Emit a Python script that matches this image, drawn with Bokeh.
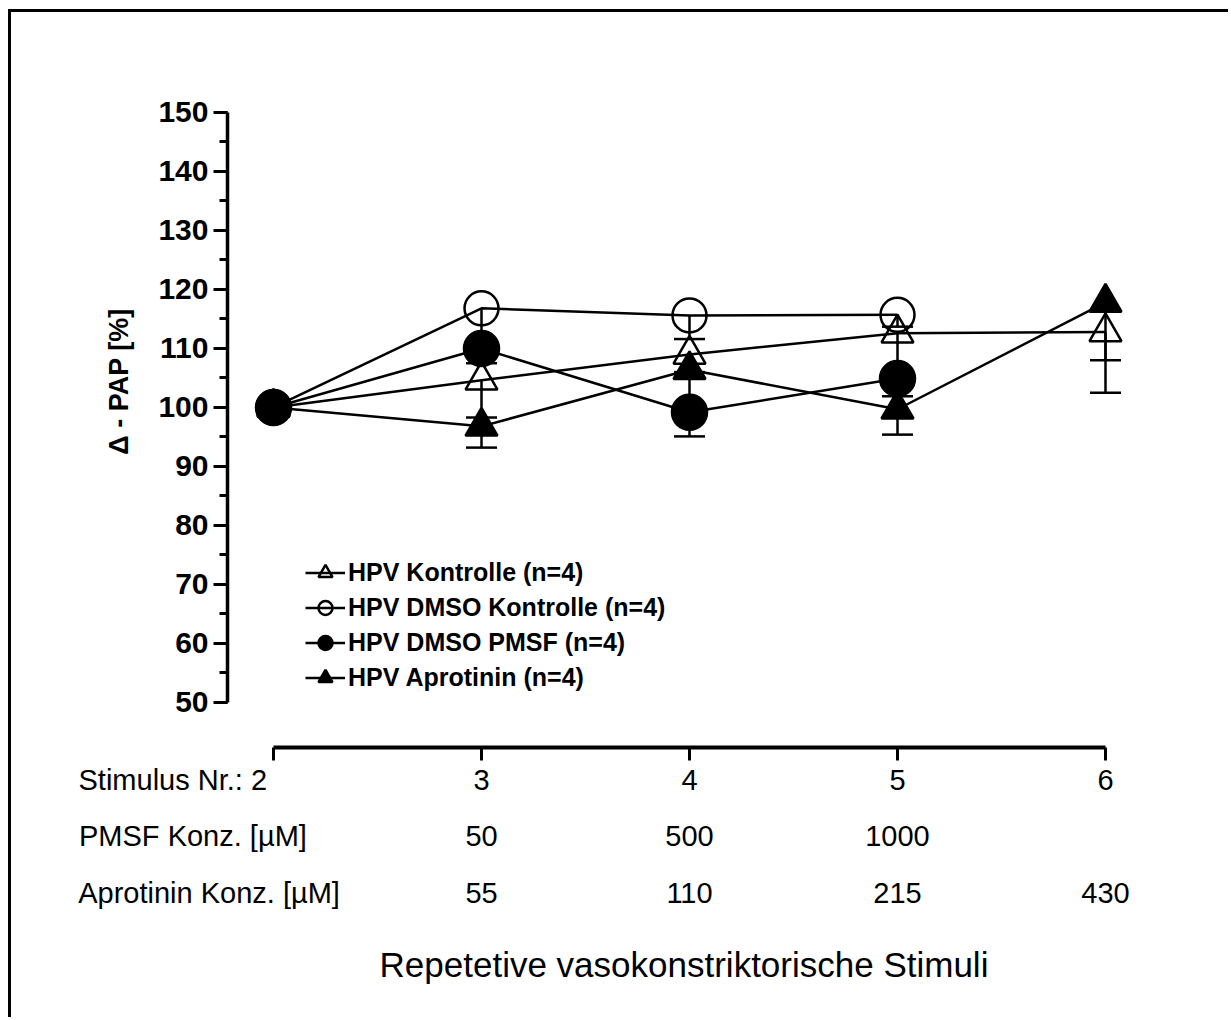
from bokeh.plotting import figure
from bokeh.models import (Range1d, LinearAxis, FixedTicker, SingleIntervalTicker, Whisker,
                          TeeHead, ColumnDataSource, Legend, LegendItem)
from bokeh.embed import file_html
from bokeh.resources import INLINE

# ---------------- data ----------------
stimulus = [2, 3, 4, 5, 6]
stim_labels = ["2", "3", "4", "5", "6"]
pmsf_conc = ["", "50", "500", "1000", ""]
aprot_conc = ["", "55", "110", "215", "430"]
row_titles = ["Stimulus Nr.:", "PMSF Konz. [µM]", "Aprotinin Konz. [µM]"]

kontrolle_x = [2, 3, 4, 5, 6]
kontrolle_y = [100, 104.6, 109.0, 112.6, 112.8]
kontrolle_sem = [0, 6.3, 3.0, 8.0, 10.3]

dmso_x = [2, 3, 4, 5]
dmso_y = [100, 116.8, 115.6, 115.7]
dmso_sem = [0, 6.0, 4.0, 2.0]

pmsf_x = [2, 3, 4, 5]
pmsf_y = [100, 110.0, 99.2, 104.9]
pmsf_sem = [0, 2.5, 4.1, 3.0]

aprot_x = [2, 3, 4, 5, 6]
aprot_y = [100, 96.8, 106.4, 99.7, 117.8]
aprot_sem = [0, 3.6, 8.0, 4.3, 9.8]

series_names = ["HPV Kontrolle (n=4)", "HPV DMSO Kontrolle (n=4)",
                "HPV DMSO PMSF (n=4)", "HPV Aprotinin (n=4)"]

FONT = "Liberation Sans"
NB = "\u00a0"

p = figure(width=1220, height=1008, output_backend="svg", toolbar_location=None,
           x_range=Range1d(1.7788, 6.1683), y_range=Range1d(42.37, 166.44),
           x_axis_type=None, y_axis_type=None,
           min_border_left=216, min_border_right=91, min_border_top=3, min_border_bottom=273)
p.outline_line_color = None
p.grid.visible = False
p.background_fill_color = "white"
p.border_fill_color = "white"
p.styles = {"margin-left": "8px", "margin-top": "9px",
            "border-left": "3px solid black", "border-top": "3px solid black"}

# ---------------- y axis ----------------
yax = LinearAxis(bounds=(50, 150), ticker=SingleIntervalTicker(interval=10, num_minor_ticks=2))
yax.axis_line_width = 3.5
yax.major_tick_line_width = 3
yax.minor_tick_line_width = 3
yax.major_tick_out = 14
yax.major_tick_in = 0
yax.minor_tick_out = 8
yax.minor_tick_in = 0
yax.major_label_text_font = FONT
yax.major_label_text_font_style = "bold"
yax.major_label_text_font_size = "30px"
yax.major_label_text_color = "black"
yax.major_label_standoff = 5
yax.axis_label = "Δ - PAP [%]"
yax.axis_label_text_font = FONT
yax.axis_label_text_font_style = "bold"
yax.axis_label_text_font_size = "27px"
yax.axis_label_text_color = "black"
yax.axis_label_standoff = 21
p.add_layout(yax, "left")

# ---------------- x axes (three rows) ----------------
def make_row_axis(labels, title, pad, standoff, tick_out, show_line):
    labs = list(labels)
    # row title shares the first tick label; padded so that the value stays centred on its tick
    labs[0] = (title + " " + labs[0] if labs[0] else title) + NB * pad
    ax = LinearAxis(bounds=(2, 6), ticker=FixedTicker(ticks=stimulus))
    ax.major_label_overrides = {s: l for s, l in zip(stimulus, labs)}
    ax.major_label_text_font = FONT
    ax.major_label_text_font_size = "29px"
    ax.major_label_text_color = "black"
    ax.major_label_standoff = standoff
    ax.minor_tick_line_color = None
    if show_line:
        ax.axis_line_width = 4
        ax.major_tick_line_width = 3
        ax.major_tick_out = tick_out
        ax.major_tick_in = 0
    else:
        ax.axis_line_color = None
        ax.major_tick_line_color = None
        ax.major_tick_out = 0
        ax.major_tick_in = 0
    return ax

ax1 = make_row_axis(stim_labels, row_titles[0], 25, 3, 13, True)
ax2 = make_row_axis(pmsf_conc, row_titles[1], 20, 21, 0, False)
ax3 = make_row_axis(aprot_conc, row_titles[2], 16, 22, 0, False)
ax3.axis_label = "Repetetive vasokonstriktorische Stimuli"
ax3.axis_label_text_font = FONT
ax3.axis_label_text_font_style = "normal"
ax3.axis_label_text_font_size = "35px"
ax3.axis_label_text_color = "black"
ax3.axis_label_standoff = 33
for ax in (ax1, ax2, ax3):
    p.add_layout(ax, "below")

# ---------------- series ----------------
LW = 2.5
def add_series(xs, ys, sems, marker, filled, size):
    src = ColumnDataSource(dict(x=xs, y=ys))
    ln = p.line("x", "y", source=src, line_color="black", line_width=LW)
    wx = [x for x, s in zip(xs, sems) if s > 0]
    wu = [y for y, s in zip(ys, sems) if s > 0]
    wl = [y - s for y, s in zip(ys, sems) if s > 0]
    wsrc = ColumnDataSource(dict(x=wx, upper=wu, lower=wl))
    p.add_layout(Whisker(base="x", upper="upper", lower="lower", source=wsrc,
                         upper_head=None,
                         lower_head=TeeHead(size=31, line_width=LW, line_color="black"),
                         line_width=LW, line_color="black"))
    sc = p.scatter("x", "y", source=src, marker=marker, size=size,
                   line_color="black", line_width=LW,
                   fill_color="black" if filled else None,
                   fill_alpha=1.0 if filled else 0.0)
    return ln, sc

r_k = add_series(kontrolle_x, kontrolle_y, kontrolle_sem, "triangle", False, 32)
r_d = add_series(dmso_x, dmso_y, dmso_sem, "circle", False, 34)
r_a = add_series(aprot_x, aprot_y, aprot_sem, "triangle", True, 32)
r_p = add_series(pmsf_x, pmsf_y, pmsf_sem, "circle", True, 35)

legend = Legend(items=[LegendItem(label=series_names[0], renderers=list(r_k)),
                       LegendItem(label=series_names[1], renderers=list(r_d)),
                       LegendItem(label=series_names[2], renderers=list(r_p)),
                       LegendItem(label=series_names[3], renderers=list(r_a))],
                location=(78, 52), orientation="vertical",
                glyph_width=40, glyph_height=35, label_height=35,
                spacing=0, padding=0, margin=0, label_standoff=3,
                border_line_color=None, background_fill_alpha=0.0,
                label_text_font=FONT, label_text_font_style="bold",
                label_text_font_size="25px", label_text_color="black")
p.add_layout(legend, "center")

open("out.html", "w").write(file_html(p, INLINE))
